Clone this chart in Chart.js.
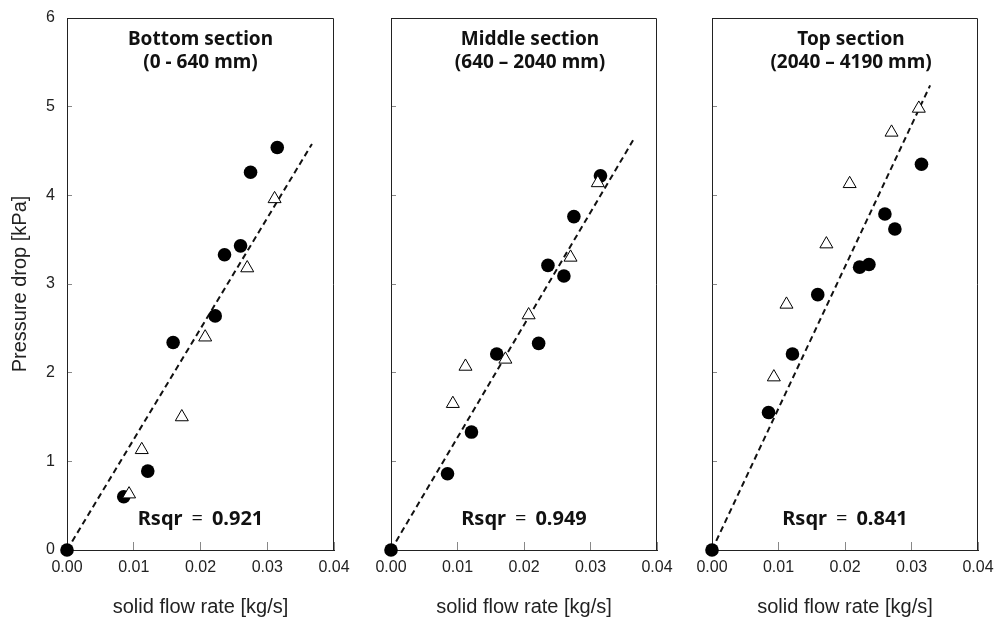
<!DOCTYPE html>
<html>
<head>
<meta charset="utf-8">
<script src="https://cdn.jsdelivr.net/npm/chart.js@4"></script>
<style>
  body { margin: 0; background: #fff; overflow: hidden; }
  #wrap { position: relative; width: 995px; height: 619px; }
  canvas { position: absolute; top: 0; }
</style>
</head>
<body>
<div id="wrap">
  <canvas id="c0" width="355" height="619" style="left:0px"></canvas>
  <canvas id="c1" width="335" height="619" style="left:345px"></canvas>
  <canvas id="c2" width="320" height="619" style="left:675px"></canvas>
</div>
<script>
// flow rates shared by the three sections
const circleFlow = [0, 0.0085, 0.0121, 0.0159, 0.0222, 0.0236, 0.0260, 0.0275, 0.0315];
const triangleFlow = [0.0093, 0.0112, 0.0172, 0.0207, 0.0270, 0.0311];

const bottomCircles = [0, 0.60, 0.89, 2.34, 2.64, 3.33, 3.43, 4.26, 4.54];
const bottomTriangles = [0.63, 1.13, 1.50, 2.40, 3.18, 3.96];
const middleCircles = [0, 0.86, 1.33, 2.21, 2.33, 3.21, 3.09, 3.76, 4.22];
const middleTriangles = [1.65, 2.07, 2.15, 2.65, 3.30, 4.14];
const topCircles = [0, 1.55, 2.21, 2.88, 3.19, 3.22, 3.79, 3.62, 4.35];
const topTriangles = [1.95, 2.77, 3.45, 4.13, 4.71, 4.98];

// dashed fit line runs from the origin to these ends
const fitEndX = [0.0367, 0.0364, 0.0328];
const fitEndY = [4.58, 4.62, 5.24];

const rsqr = ["0.921", "0.949", "0.841"];
const titles = [
  ["Bottom section", "(0 - 640 mm)"],
  ["Middle section", "(640 \u2013 2040 mm)"],
  ["Top section", "(2040 \u2013 4190 mm)"]
];
const xTickValues = [0, 0.01, 0.02, 0.03, 0.04];
const yTickValues = [0, 1, 2, 3, 4, 5, 6];

const circleSets = [bottomCircles, middleCircles, topCircles];
const triangleSets = [bottomTriangles, middleTriangles, topTriangles];

// left edge of each plot inside its canvas, and right padding
const yAxisWidth = [67, 46, 37];
const rightPad = [21, 23, 17];
const titleShift = [0, 6, 6];

const pts = (xs, ys) => xs.map((x, i) => ({ x: x, y: ys[i] }));

const annotate = {
  id: "annotate",
  beforeDatasetsDraw(chart) {
    const { ctx, chartArea: a } = chart;
    ctx.save();
    ctx.strokeStyle = "#222";
    ctx.lineWidth = 1;
    ctx.beginPath();
    ctx.moveTo(Math.round(a.left) + 0.5, Math.round(a.top) + 0.5);
    ctx.lineTo(Math.round(a.right) - 0.5, Math.round(a.top) + 0.5);
    ctx.lineTo(Math.round(a.right) - 0.5, Math.round(a.bottom));
    ctx.stroke();
    ctx.restore();
  },
  afterDraw(chart) {
    const { ctx, chartArea: a } = chart;
    const i = chart.options.plugins.annotate.panel;
    const cx = (a.left + a.right) / 2;
    ctx.save();
    ctx.fillStyle = "#111";
    ctx.textAlign = "center";
    ctx.textBaseline = "middle";
    ctx.font = "bold 19px 'Noto Sans'";
    ctx.fillText(titles[i][0], cx + titleShift[i], 40);
    ctx.fillText(titles[i][1], cx + titleShift[i], 63);

    // Rsqr = value, with a lighter equals sign
    const bold = "bold 20px 'Noto Sans'";
    const thin = "20px 'Noto Sans'";
    const parts = [["Rsqr", bold], ["=", thin], [rsqr[i], bold]];
    const gap = 9;
    let total = gap * 2;
    parts.forEach(p => { ctx.font = p[1]; total += ctx.measureText(p[0]).width; });
    let x = cx - total / 2;
    ctx.textAlign = "left";
    parts.forEach(p => {
      ctx.font = p[1];
      ctx.fillText(p[0], x, 519);
      x += ctx.measureText(p[0]).width + gap;
    });
    ctx.restore();
  }
};

function makePanel(i) {
  const ctx = document.getElementById("c" + i).getContext("2d");
  new Chart(ctx, {
    type: "scatter",
    data: {
      datasets: [
        {
          label: "open",
          data: pts(triangleFlow, triangleSets[i]),
          pointStyle: "triangle",
          pointRadius: 7.5,
          pointBackgroundColor: "#fff",
          pointBorderColor: "#000",
          pointBorderWidth: 1,
          clip: false
        },
        {
          label: "solid",
          data: pts(circleFlow, circleSets[i]),
          pointStyle: "circle",
          pointRadius: 6.8,
          pointBackgroundColor: "#000",
          pointBorderColor: "#000",
          pointBorderWidth: 0,
          clip: false
        },
        {
          label: "fit",
          type: "line",
          data: [{ x: 0, y: 0 }, { x: fitEndX[i], y: fitEndY[i] }],
          borderColor: "#111",
          borderWidth: 2,
          borderDash: [6, 4],
          pointRadius: 0,
          fill: false,
          clip: false
        }
      ]
    },
    options: {
      responsive: false,
      animation: false,
      layout: { padding: { top: 18, right: rightPad[i], bottom: 0, left: 0 } },
      plugins: {
        legend: { display: false },
        tooltip: { enabled: false },
        annotate: { panel: i }
      },
      scales: {
        x: {
          type: "linear",
          min: 0,
          max: 0.04,
          afterBuildTicks: s => { s.ticks = xTickValues.map(v => ({ value: v })); },
          afterFit: s => { s.height = 69; s.paddingLeft = 0; s.paddingRight = 0; },
          grid: { drawOnChartArea: false, tickLength: -8, color: "#888" },
          border: { color: "#222", width: 1 },
          ticks: {
            padding: 16,
            color: "#222",
            font: { family: "'Liberation Sans', Arial", size: 16 },
            callback: v => v.toFixed(2)
          },
          title: {
            display: true,
            text: "solid flow rate [kg/s]",
            color: "#222",
            font: { family: "'Liberation Sans', Arial", size: 20 },
            padding: { top: 0, bottom: 0 }
          }
        },
        y: {
          type: "linear",
          min: 0,
          max: 6,
          afterBuildTicks: s => { s.ticks = yTickValues.map(v => ({ value: v })); },
          afterFit: s => { s.width = yAxisWidth[i]; s.paddingTop = 0; s.paddingBottom = 0; },
          grid: { drawOnChartArea: false, tickLength: -5, color: "#888" },
          border: { color: "#222", width: 1 },
          ticks: {
            display: i === 0,
            padding: 17,
            color: "#222",
            font: { family: "'Liberation Sans', Arial", size: 16 }
          },
          title: {
            display: i === 0,
            text: "Pressure drop [kPa]",
            color: "#222",
            font: { family: "'Liberation Sans', Arial", size: 20 },
            padding: { top: 8, bottom: 0 }
          }
        }
      }
    },
    plugins: [annotate]
  });
}

[0, 1, 2].forEach(makePanel);
</script>
</body>
</html>
